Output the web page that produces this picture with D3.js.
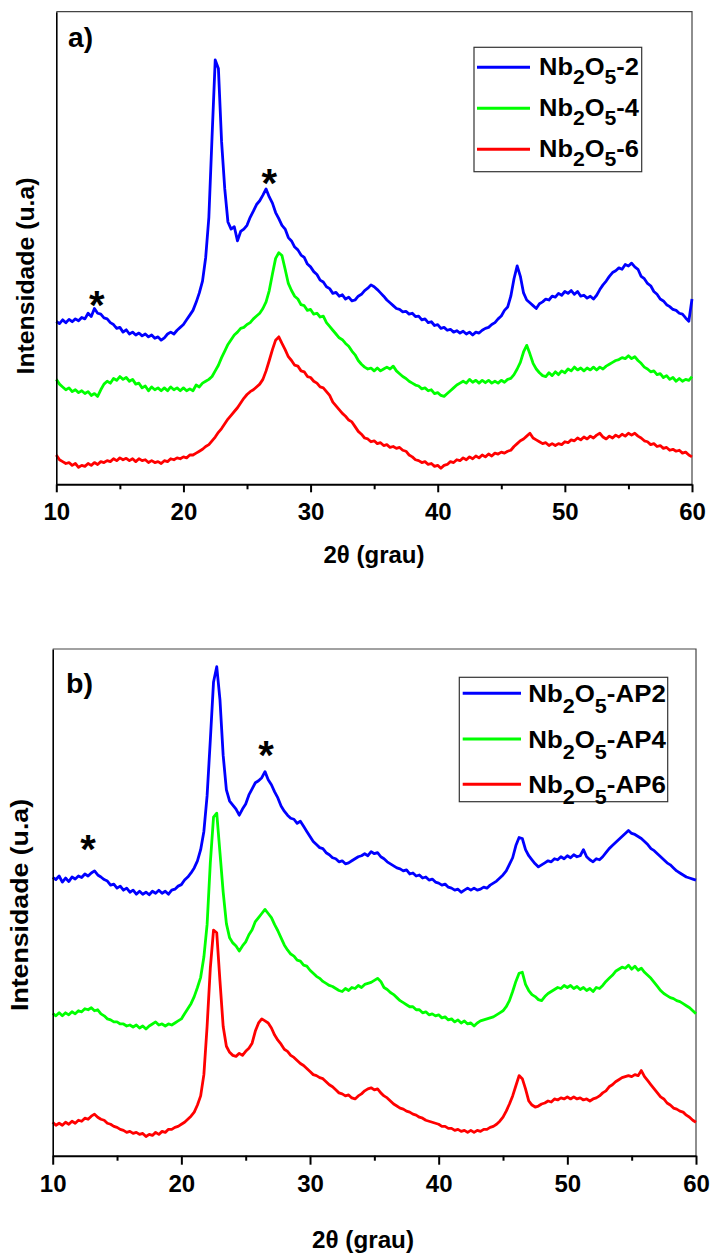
<!DOCTYPE html>
<html>
<head>
<meta charset="utf-8">
<script src="https://cdn.jsdelivr.net/npm/d3@7"></script>
<style>
  body { margin: 0; background: #fff; }
  svg { display: block; }
  text { font-family: "Liberation Sans", Arial, Helvetica, sans-serif; font-weight: bold; fill: #000; }
</style>
</head>
<body>
<svg id="chart" width="710" height="1255"></svg>
<script>
// Diffraction angle grid (2θ, degrees), one reading every 0.25°
const twoTheta = d3.range(0, 201).map(i => 10 + i * 0.25);

// Axis ticks
const xTicks = [10, 20, 30, 40, 50, 60];
const xMinorTicks = [15, 25, 35, 45, 55];

// Panel a) — intensities (arbitrary units, 0–1000 over the plot height)
const nb2o5_2 = [
  345,340,348,342,349,344,350,346,353,350,362,355,372,362,360,352,350,342,338,330,
  332,322,327,318,322,316,320,314,318,312,316,309,312,305,310,318,322,318,326,332,
  338,348,358,368,385,405,430,480,565,735,898,880,725,625,555,540,545,515,535,540,
  548,565,578,592,600,612,625,608,595,575,562,548,540,522,515,502,496,485,480,466,
  460,450,444,432,428,418,414,404,406,398,401,392,396,388,390,398,402,410,415,422,
  418,412,405,398,390,384,378,372,370,365,366,360,362,355,356,348,350,342,344,336,
  338,330,332,326,328,322,325,320,324,318,322,316,322,320,326,330,332,338,342,350,
  356,368,375,398,435,462,440,405,390,384,378,372,382,386,392,390,398,396,404,400,
  408,404,410,402,408,398,400,394,398,392,400,412,422,430,440,448,452,458,455,465,
  462,468,460,455,440,435,425,420,408,402,392,388,380,376,370,368,362,360,352,345,
  392
];
const nb2o5_4 = [
  222,212,206,200,204,196,200,194,198,192,196,188,192,186,200,212,218,214,224,220,
  228,222,226,218,222,212,214,204,208,198,206,200,204,198,204,198,206,200,204,198,
  204,198,202,198,210,206,214,218,222,228,240,252,268,282,296,306,316,322,330,332,
  338,342,350,356,362,372,386,410,445,478,490,484,455,425,410,398,392,380,378,368,
  370,360,362,354,356,342,334,326,318,310,306,298,292,282,274,262,254,248,244,246,
  240,246,240,244,248,244,250,240,234,228,224,218,214,210,208,202,204,198,200,192,
  194,188,186,192,198,204,210,214,218,214,222,216,220,214,220,215,220,214,218,214,
  220,216,222,224,232,244,258,280,294,276,256,244,236,230,228,236,230,238,232,240,
  236,244,240,248,242,246,240,246,242,248,242,248,244,250,254,258,262,264,268,266,
  272,266,270,262,256,248,244,238,240,232,234,226,230,222,226,218,224,218,222,220,
  228
];
const nb2o5_6 = [
  62,52,48,44,46,40,44,36,40,38,44,40,46,42,48,46,50,48,54,50,
  56,52,55,50,54,48,54,50,52,46,50,46,48,44,50,48,54,52,56,54,
  58,56,62,62,66,70,74,80,84,92,100,110,118,128,138,146,154,162,172,182,
  190,196,200,206,212,222,240,262,285,305,312,298,285,270,262,252,250,240,238,228,
  226,218,214,206,204,196,188,174,166,158,150,144,136,132,122,112,106,98,96,90,
  92,86,88,82,84,78,80,76,78,72,70,62,58,52,50,46,48,42,44,38,
  40,34,40,42,48,46,52,50,56,52,58,54,60,56,62,58,64,60,66,64,
  68,66,70,72,80,86,92,96,102,108,98,94,90,86,88,82,86,82,86,84,
  90,88,94,92,98,94,100,96,102,98,104,108,100,96,102,98,104,100,106,102,
  108,104,108,102,98,92,90,84,86,80,82,76,78,72,74,70,72,66,68,62,
  58
];

// Panel b) — intensities (arbitrary units, 0–1000 over the plot height)
const nb2o5_ap2 = [
  549,545,552,540,548,541,550,546,552,549,556,552,558,562,554,550,545,542,534,536,
  528,532,524,528,520,524,516,522,516,520,515,522,518,524,518,522,516,524,526,532,
  535,544,550,558,568,582,604,640,710,820,935,965,900,790,722,700,692,684,672,684,
  694,712,724,736,740,746,758,742,732,718,706,690,680,672,666,664,656,660,650,640,
  630,620,614,608,606,598,594,588,586,580,582,576,578,582,586,590,592,596,592,600,
  596,598,590,586,580,576,572,568,566,562,564,556,558,552,554,548,550,544,546,540,
  538,534,536,530,528,524,526,520,524,528,524,528,524,526,530,528,534,538,542,548,
  554,562,575,588,612,628,626,604,592,584,576,570,574,578,582,580,586,584,590,586,
  592,588,594,590,592,604,590,584,580,586,584,590,598,606,612,618,624,630,636,642,
  636,634,630,626,620,614,606,602,596,590,584,578,574,568,562,558,554,550,548,546,
  544
];
const nb2o5_ap4 = [
  281,276,282,276,282,278,284,280,286,284,290,288,292,286,288,280,276,270,268,264,
  264,260,260,256,258,254,258,252,256,250,256,260,264,258,260,256,260,258,262,266,
  270,280,290,300,314,332,352,392,456,578,668,676,598,520,458,430,420,414,404,414,
  422,436,446,462,470,478,486,478,470,456,444,430,416,406,398,394,386,384,376,374,
  366,360,354,350,344,340,336,334,330,326,324,330,326,332,330,336,332,338,340,342,
  346,350,344,332,328,322,318,312,306,302,298,294,294,288,288,282,284,278,280,276,
  278,272,274,268,270,264,268,262,266,260,262,256,262,266,268,270,272,274,278,282,
  286,294,306,324,344,360,362,338,326,318,314,308,306,314,320,324,328,332,330,336,
  332,336,330,334,328,332,326,330,324,332,330,336,344,350,356,364,368,372,370,376,
  368,374,366,370,362,356,350,342,334,326,320,316,312,310,306,304,300,296,292,286,
  280
];
const nb2o5_ap6 = [
  66,60,64,60,66,62,68,64,70,68,74,72,78,82,76,72,70,64,62,58,
  56,52,50,46,48,44,46,42,44,38,42,40,46,42,48,46,52,52,56,58,
  62,66,72,78,86,100,118,160,255,370,445,440,345,255,216,204,198,196,202,198,
  206,212,222,246,262,270,266,262,252,238,228,220,210,206,198,194,188,182,178,172,
  166,160,158,154,152,146,140,136,130,124,122,118,120,114,112,118,122,128,132,134,
  130,132,124,118,114,108,102,98,94,92,88,86,82,80,76,74,70,68,66,64,
  62,58,58,54,54,50,52,48,50,46,50,46,50,48,52,52,56,58,62,68,
  76,88,102,118,138,158,152,132,108,100,96,98,102,104,108,106,112,110,114,112,
  116,112,116,112,114,110,112,108,112,114,118,124,128,136,140,146,150,154,156,158,
  156,160,158,168,156,148,140,132,124,116,112,104,100,94,92,88,86,80,76,70,
  66
];

// Series names (legend) and colours
const seriesNamesA = ["-2", "-4", "-6"];
const seriesNamesB = ["-AP2", "-AP4", "-AP6"];
const seriesColors = ["#0000ff", "#00ff00", "#ff0000"];

// Reflections marked with an asterisk: [2θ, intensity]
const starsA = [[13.18, 398], [26.75, 655]];
const starsB = [[12.74, 621], [26.58, 808]];

const panels = [
  {
    label: "a)", labelX: 68, labelY: 46.7, labelSize: 27, labelLen: 25,
    left: 56.3, right: 692, top: 11.7, bottom: 484.3,
    majorLen: 8, minorLen: 5, tickPad: 11,
    series: [nb2o5_2, nb2o5_4, nb2o5_6], names: seriesNamesA, stars: starsA,
    yTitle: { x: 26, y: 276, len: 197 },
    xTitle: { x: 374, y: 563, len: 101 },
    legend: { x: 474, y: 47.3, w: 167.7, h: 124.4, lx0: 477, lx1: 530, tx: 539, rows: [67.3, 108.3, 149.3], base: 8, sub: 9, len: 100 }
  },
  {
    label: "b)", labelX: 66, labelY: 693.3, labelSize: 28, labelLen: 27,
    left: 52.7, right: 696, top: 649, bottom: 1155.7,
    majorLen: 9, minorLen: 5, tickPad: 10.5,
    series: [nb2o5_ap2, nb2o5_ap4, nb2o5_ap6], names: seriesNamesB, stars: starsB,
    yTitle: { x: 20, y: 905, len: 212 },
    xTitle: { x: 363, y: 1248, len: 102 },
    legend: { x: 459.3, y: 677.3, w: 208.4, h: 124.4, lx0: 462.7, lx1: 521, tx: 528.3, rows: [693.3, 739, 784.3], base: 8.6, sub: 11, len: 137.5 }
  }
];

const svg = d3.select("#chart");

function drawPanel(p) {
  const x = d3.scaleLinear().domain([10, 60]).range([p.left, p.right]);
  const y = d3.scaleLinear().domain([0, 1000]).range([p.bottom, p.top]);
  const g = svg.append("g");

  // thin frame on top and right
  g.append("path")
    .attr("d", `M${p.left},${p.top}H${p.right}V${p.bottom}`)
    .attr("fill", "none").attr("stroke", "#444").attr("stroke-width", 1.2);

  // diffractograms
  const line = d3.line().x((d, i) => x(twoTheta[i])).y(d => y(d));
  p.series.forEach((vals, k) => {
    g.append("path").datum(vals)
      .attr("d", line)
      .attr("fill", "none")
      .attr("stroke", seriesColors[k])
      .attr("stroke-width", 2.8)
      .attr("stroke-linejoin", "round");
  });

  // asterisks
  p.stars.forEach(([sx, sy]) => {
    g.append("text").attr("x", x(sx)).attr("y", y(sy))
      .attr("dy", "0.56em").attr("text-anchor", "middle")
      .attr("font-size", 40).text("*");
  });

  // left axis (line only)
  const gl = g.append("g").attr("transform", `translate(${p.left},0)`)
    .call(d3.axisLeft(y).tickValues([]).tickSizeOuter(0));
  gl.select(".domain").attr("stroke", "#000").attr("stroke-width", 1.6);

  // bottom axis: minor then major ticks
  const gm = g.append("g").attr("transform", `translate(0,${p.bottom})`)
    .call(d3.axisBottom(x).tickValues(xMinorTicks).tickSize(p.minorLen).tickSizeOuter(0).tickFormat(""));
  gm.select(".domain").remove();
  gm.selectAll(".tick line").attr("stroke", "#000").attr("stroke-width", 2);

  const gb = g.append("g").attr("transform", `translate(0,${p.bottom})`)
    .call(d3.axisBottom(x).tickValues(xTicks).tickSize(p.majorLen).tickSizeOuter(0)
      .tickPadding(p.tickPad).tickFormat(d3.format("d")));
  gb.attr("font-family", null).attr("font-size", null);
  gb.select(".domain").attr("stroke", "#000").attr("stroke-width", 2);
  gb.selectAll(".tick line").attr("stroke", "#000").attr("stroke-width", 2);
  gb.selectAll(".tick text").attr("font-size", 24).attr("fill", "#000");

  // panel label
  g.append("text").attr("x", p.labelX).attr("y", p.labelY)
    .attr("font-size", p.labelSize)
    .attr("textLength", p.labelLen).attr("lengthAdjust", "spacingAndGlyphs")
    .text(p.label);

  // axis titles
  g.append("text")
    .attr("transform", `translate(${p.yTitle.x},${p.yTitle.y}) rotate(-90)`)
    .attr("text-anchor", "middle").attr("dy", "0.35em")
    .attr("font-size", 24)
    .attr("textLength", p.yTitle.len).attr("lengthAdjust", "spacingAndGlyphs")
    .text("Intensidade (u.a)");

  g.append("text")
    .attr("x", p.xTitle.x - p.xTitle.len / 2).attr("y", p.xTitle.y)
    .attr("font-size", 23)
    .attr("textLength", p.xTitle.len).attr("lengthAdjust", "spacingAndGlyphs")
    .text("2θ (grau)");

  // legend
  const L = p.legend;
  g.append("rect").attr("x", L.x).attr("y", L.y).attr("width", L.w).attr("height", L.h)
    .attr("fill", "#fff").attr("stroke", "#333").attr("stroke-width", 1.2);
  p.names.forEach((nm, k) => {
    const ry = L.rows[k];
    g.append("line").attr("x1", L.lx0).attr("x2", L.lx1).attr("y1", ry).attr("y2", ry)
      .attr("stroke", seriesColors[k]).attr("stroke-width", 3);
    const t = g.append("text").attr("x", L.tx).attr("y", ry + L.base)
      .attr("font-size", 24)
      .attr("textLength", L.len).attr("lengthAdjust", "spacingAndGlyphs");
    t.append("tspan").text("Nb");
    t.append("tspan").attr("font-size", 20).attr("dy", L.sub).text("2");
    t.append("tspan").attr("dy", -L.sub).text("O");
    t.append("tspan").attr("font-size", 20).attr("dy", L.sub).text("5");
    t.append("tspan").attr("dy", -L.sub).text(nm);
  });
}

panels.forEach(drawPanel);
</script>
</body>
</html>
